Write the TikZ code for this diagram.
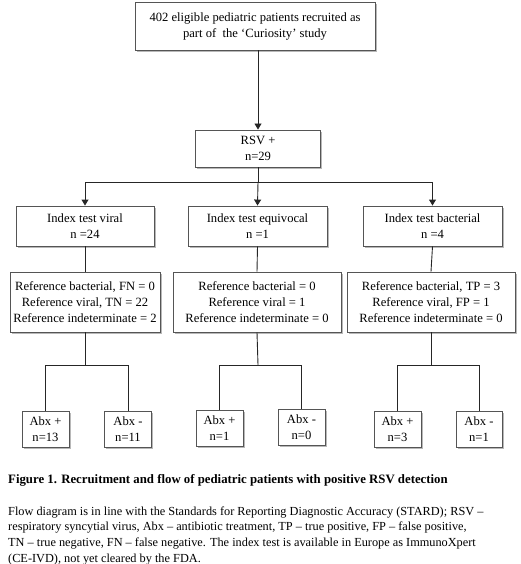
\documentclass[tikz,border=0pt]{standalone}
\usepackage{fontspec}
\setmainfont{Liberation Serif}
\usetikzlibrary{arrows.meta,shadows}
\definecolor{boxline}{HTML}{555555}
\definecolor{shadowc}{HTML}{B8B8B8}
\tikzset{
  box/.style={draw=boxline, line width=0.9pt, fill=white, align=center, inner sep=0pt,
    font=\fontsize{12.6}{16}\selectfont,
    drop shadow={shadow xshift=1.6pt, shadow yshift=-1.6pt, fill=shadowc, opacity=1}},
  conn/.style={line width=0.9pt, draw=black!85},
  arr/.style={conn, -{Triangle[length=6pt,width=7pt]}},
}
\begin{document}
\begin{tikzpicture}[x=1pt,y=-1pt]
\useasboundingbox (0,0) rectangle (520,564);
% nodes
\node[box, minimum width=240, minimum height=48] (top) at (255,26) {402 eligible pediatric patients recruited as\\part of\ \ the `Curiosity' study};
\node[box, minimum width=125, minimum height=37] (rsv) at (258,148.5) {RSV +\\n=29};
\node[box, minimum width=138, minimum height=40] (iv) at (85,226) {Index test viral\\n =24};
\node[box, minimum width=139, minimum height=40] (ie) at (257.5,226) {Index test equivocal\\n =1};
\node[box, minimum width=139, minimum height=40] (ib) at (432.5,226) {Index test bacterial\\n =4};
\node[box, minimum width=150, minimum height=60] (rv) at (85,302) {Reference bacterial, FN = 0\\Reference viral, TN = 22\\Reference indeterminate = 2};
\node[box, minimum width=168, minimum height=60] (re) at (257,302) {Reference bacterial = 0\\Reference viral = 1\\Reference indeterminate = 0};
\node[box, minimum width=168, minimum height=60] (rb) at (431,302) {Reference bacterial, TP = 3\\Reference viral, FP = 1\\Reference indeterminate = 0};
\node[box, minimum width=47, minimum height=36] (a1) at (45.5,429) {Abx +\\n=13};
\node[box, minimum width=47, minimum height=36] (a2) at (128,429) {Abx -\\n=11};
\node[box, minimum width=47, minimum height=36] (a3) at (219.5,428) {Abx +\\n=1};
\node[box, minimum width=47, minimum height=36] (a4) at (301.5,427.5) {Abx -\\n=0};
\node[box, minimum width=47, minimum height=36] (a5) at (397.5,429.5) {Abx +\\n=3};
\node[box, minimum width=46, minimum height=36] (a6) at (479,429.5) {Abx -\\n=1};
% junction coordinates
\coordinate (hub) at (258,182);
\coordinate (jv) at (85,365);
\coordinate (je) at (258,365);
\coordinate (jb) at (431,365);
% connectors
\draw[arr] (rsv.north |- top.south) -- (rsv.north);
\draw[conn] (rsv.south) -- (hub);
\draw[conn] (iv.north |- hub) -- (ib.north |- hub);
\draw[arr] (iv.north |- hub) -- (iv.north);
\draw[arr] (hub) -- (ie.north);
\draw[arr] (ib.north |- hub) -- (ib.north);
\draw[conn] (iv.south) -- (rv.north);
\draw[conn] (ie.south) -- (re.north);
\draw[conn] (ib.south) -- (rb.north);
\draw[conn] (rv.south) -- (jv);
\draw[conn] (re.south) -- (je);
\draw[conn] (rb.south) -- (jb);
\draw[conn] (a1.north) -- (a1.north |- jv) -- (a2.north |- jv) -- (a2.north);
\draw[conn] (a3.north) -- (a3.north |- je) -- (a4.north |- je) -- (a4.north);
\draw[conn] (a5.north) -- (a5.north |- jb) -- (a6.north |- jb) -- (a6.north);
% caption
\node[anchor=north west, inner sep=0pt, align=left, font=\fontsize{12.3}{15.8}\selectfont] (cap) at (8,474)
 {{\fontsize{12.8}{15.8}\selectfont\textbf{Figure 1. Recruitment and flow of pediatric patients with positive RSV detection}}\\[16pt]
 Flow diagram is in line with the Standards for Reporting Diagnostic Accuracy (STARD); RSV --\\
 respiratory syncytial virus, Abx -- antibiotic treatment, TP -- true positive, FP -- false positive,\\
 TN -- true negative, FN -- false negative. The index test is available in Europe as ImmunoXpert\\
 (CE-IVD), not yet cleared by the FDA.};
\end{tikzpicture}
\end{document}
